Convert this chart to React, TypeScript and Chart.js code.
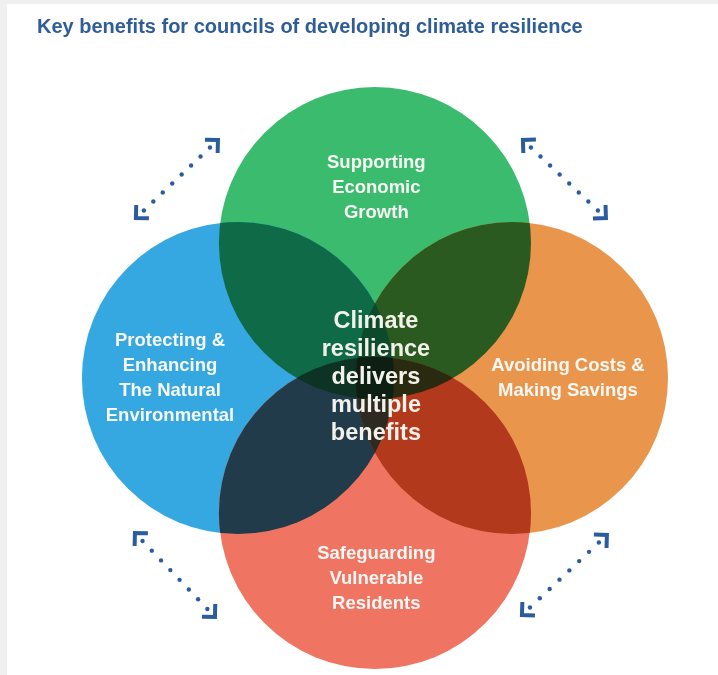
import React, { useEffect, useRef } from "react";
import { Chart, registerables } from "chart.js";

Chart.register(...registerables);

// ---------- data ----------
const titleText = "Key benefits for councils of developing climate resilience";

const circleNames = [
  "Supporting Economic Growth",
  "Protecting & Enhancing The Natural Environmental",
  "Avoiding Costs & Making Savings",
  "Safeguarding Vulnerable Residents",
];
const circleX = [0, -1, 1, 0];
const circleY = [1, 0, 0, -1];
const circleR = [1.139, 1.139, 1.139, 1.139];
const circleColors = ["#3bbb6d", "#36a8e1", "#e9964c", "#f07462"];

const labelLines = [
  ["Supporting", "Economic", "Growth"],
  ["Protecting &", "Enhancing", "The Natural", "Environmental"],
  ["Avoiding Costs &", "Making Savings"],
  ["Safeguarding", "Vulnerable", "Residents"],
];
const labelX = [0.01, -1.496, 1.409, 0.01];
const labelY = [1.407, 0, 0, -1.489];

const centerLines = ["Climate", "resilience", "delivers", "multiple", "benefits"];

// overlap regions (indices into circles) and their colours
const overlapSets = [
  [0, 3], [1, 2],
  [0, 1], [0, 2], [1, 3], [2, 3],
  [0, 1, 2], [0, 1, 3], [0, 2, 3], [1, 2, 3],
  [0, 1, 2, 3],
];
const overlapColors = [
  "#1a2a1a", "#1a2a2a",
  "#0f6a48", "#2a5a20", "#223b4a", "#b2391c",
  "#0d4a2c", "#0d3325", "#2a2a10", "#2e2a22",
  "#0c1f12",
];

// dotted double arrows between neighbouring circles (data units)
const arrowFromX = [-1.745, 1.080, -1.752, 1.693];
const arrowFromY = [1.185, 1.763, -1.148, -1.163];
const arrowToX = [-1.146, 1.686, -1.168, 1.073];
const arrowToY = [1.763, 1.185, -1.770, -1.756];

// axis ranges (layout)
const xMin = -2.737, xMax = 2.504;
const yMin = -2.2, yMax = 2.8;

const FONT = "'Liberation Sans', Arial, sans-serif";
const ARROW_COLOR = "#2b5d9e";
const TITLE_COLOR = "#2f5d97";

function unitPx(chart: any) {
  const s = chart.scales && chart.scales.x;
  if (!s) return 0;
  const v = Math.abs(s.getPixelForValue(1) - s.getPixelForValue(0));
  return isFinite(v) ? v : 0;
}

const backgroundPlugin = {
  id: "bg",
  beforeDraw(chart: any) {
    const ctx = chart.ctx;
    ctx.save();
    ctx.fillStyle = "#f0f0f0";
    ctx.fillRect(0, 0, chart.width, chart.height);
    ctx.fillStyle = "#ffffff";
    ctx.fillRect(7, 4, chart.width - 7, chart.height - 4);
    ctx.restore();
  },
};

const overlapPlugin = {
  id: "overlaps",
  afterDatasetsDraw(chart: any) {
    const ctx = chart.ctx;
    const sx = chart.scales.x, sy = chart.scales.y;
    const u = unitPx(chart);
    overlapSets.forEach((set, k) => {
      ctx.save();
      set.forEach((i) => {
        ctx.beginPath();
        ctx.arc(sx.getPixelForValue(circleX[i]), sy.getPixelForValue(circleY[i]), circleR[i] * u, 0, Math.PI * 2);
        ctx.clip();
      });
      ctx.fillStyle = overlapColors[k];
      ctx.fillRect(0, 0, chart.width, chart.height);
      ctx.restore();
    });
  },
};

const arrowPlugin = {
  id: "arrows",
  afterDatasetsDraw(chart: any) {
    const ctx = chart.ctx;
    const sx = chart.scales.x, sy = chart.scales.y;
    ctx.save();
    ctx.strokeStyle = ARROW_COLOR;
    ctx.fillStyle = ARROW_COLOR;
    for (let i = 0; i < arrowFromX.length; i++) {
      const ax = sx.getPixelForValue(arrowFromX[i]);
      const ay = sy.getPixelForValue(arrowFromY[i]);
      const bx = sx.getPixelForValue(arrowToX[i]);
      const by = sy.getPixelForValue(arrowToY[i]);
      const len = Math.hypot(bx - ax, by - ay);
      const ux = (bx - ax) / len, uy = (by - ay) / len;
      const nDots = 8;
      const inset = 11;
      for (let d = 0; d < nDots; d++) {
        const t = inset + ((len - 2 * inset) * d) / (nDots - 1);
        ctx.beginPath();
        ctx.arc(ax + ux * t, ay + uy * t, 2.2, 0, Math.PI * 2);
        ctx.fill();
      }
      const arm = 13;
      const drawChevron = (px: number, py: number, dx: number, dy: number) => {
        const c = Math.cos(Math.PI / 4), s = Math.sin(Math.PI / 4);
        const r1x = dx * c - dy * s, r1y = dx * s + dy * c;
        const r2x = dx * c + dy * s, r2y = -dx * s + dy * c;
        ctx.beginPath();
        ctx.moveTo(px + r1x * arm, py + r1y * arm);
        ctx.lineTo(px, py);
        ctx.lineTo(px + r2x * arm, py + r2y * arm);
        ctx.lineWidth = 4;
        ctx.lineJoin = "miter";
        ctx.lineCap = "butt";
        ctx.stroke();
      };
      drawChevron(ax, ay, ux, uy);
      drawChevron(bx, by, -ux, -uy);
    }
    ctx.restore();
  },
};

const textPlugin = {
  id: "texts",
  afterDraw(chart: any) {
    const ctx = chart.ctx;
    const sx = chart.scales.x, sy = chart.scales.y;
    ctx.save();
    ctx.fillStyle = TITLE_COLOR;
    ctx.font = `bold 20px ${FONT}`;
    ctx.textAlign = "left";
    ctx.textBaseline = "middle";
    ctx.fillText(titleText, 37, 27);

    ctx.fillStyle = "#f7f7f4";
    ctx.font = `bold 18.5px ${FONT}`;
    ctx.textAlign = "center";
    const lh = 25;
    labelLines.forEach((lines, i) => {
      const cx = sx.getPixelForValue(labelX[i]);
      const cy = sy.getPixelForValue(labelY[i]);
      const top = cy - ((lines.length - 1) * lh) / 2;
      lines.forEach((ln, j) => ctx.fillText(ln, cx, top + j * lh));
    });

    ctx.fillStyle = "#f2f1ea";
    ctx.font = `bold 23.5px ${FONT}`;
    const clh = 28;
    const ccx = sx.getPixelForValue(0.007);
    const ccy = sy.getPixelForValue(0);
    const ctop = ccy - ((centerLines.length - 1) * clh) / 2;
    centerLines.forEach((ln, j) => ctx.fillText(ln, ccx, ctop + j * clh));
    ctx.restore();
  },
};

export default function App() {
  const ref = useRef<HTMLCanvasElement | null>(null);
  useEffect(() => {
    if (!ref.current) return;
    const chart = new Chart(ref.current, {
      type: "bubble",
      data: {
        labels: circleNames,
        datasets: [
          {
            label: "Benefits",
            data: circleX.map((x, i) => ({ x, y: circleY[i], r: 1 })),
            backgroundColor: circleColors,
            borderWidth: 0,
          } as any,
        ],
      },
      options: {
        responsive: false,
        animation: false,
        events: [],
        layout: { padding: 0, autoPadding: false },
        scales: {
          x: { type: "linear", min: xMin, max: xMax, display: false },
          y: { type: "linear", min: yMin, max: yMax, display: false },
        },
        plugins: {
          legend: { display: false },
          tooltip: { enabled: false },
          title: { display: false },
        },
      },
      plugins: [backgroundPlugin, overlapPlugin, arrowPlugin, textPlugin],
    });
    // bubble radii are pixels: convert the data-unit radii through the x scale
    const u = unitPx(chart);
    chart.data.datasets[0].data = circleX.map((x, i) => ({ x, y: circleY[i], r: circleR[i] * u })) as any;
    chart.update();
    return () => chart.destroy();
  }, []);
  return (
    <div style={{ position: "fixed", left: 0, top: 0, width: 718, height: 675 }}>
      <canvas ref={ref} width={718} height={675} />
    </div>
  );
}
